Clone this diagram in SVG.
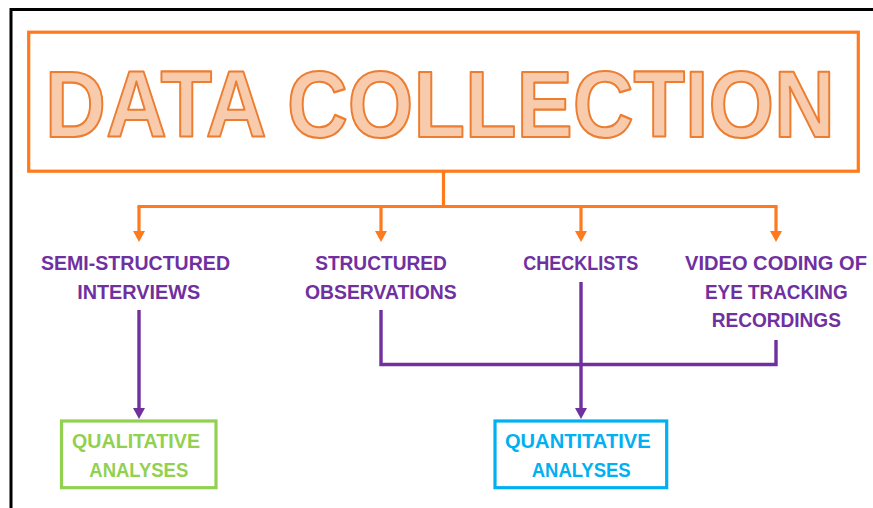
<svg xmlns="http://www.w3.org/2000/svg" width="873" height="508" viewBox="0 0 873 508">
<style>
.lbl{font-family:"Liberation Sans",Arial,sans-serif;font-weight:bold;font-size:19.5px;text-anchor:middle}
.pur{fill:#7030A0}
.grn{fill:#92D050}
.blu{fill:#00B0F0}
.oc{fill:none;stroke:#FF7A1C;stroke-width:3.2}
.pc{fill:none;stroke:#7030A0;stroke-width:3.4}
</style>
<defs>
<marker id="ao" markerUnits="userSpaceOnUse" markerWidth="12" markerHeight="12" viewBox="0 0 11 12" refX="0" refY="6" orient="auto"><path d="M0,0 L11,6 L0,12 z" fill="#FF7A1C"/></marker>
<marker id="ap" markerUnits="userSpaceOnUse" markerWidth="12" markerHeight="12" viewBox="0 0 11 12" refX="0" refY="6" orient="auto"><path d="M0,0 L11,6 L0,12 z" fill="#7030A0"/></marker>
</defs>
<rect width="873" height="508" fill="#fff"/>
<rect x="11" y="9.5" width="900" height="600" fill="none" stroke="#000" stroke-width="3"/>
<g id="title">
<rect x="28.7" y="32.2" width="829.6" height="139" fill="none" stroke="#FF7A1C" stroke-width="3.2"/>
<text transform="translate(440,137) scale(1,1.145)" x="0" y="0" font-family="'Liberation Sans',Arial,sans-serif" font-weight="bold" font-size="83" text-anchor="middle" textLength="790" lengthAdjust="spacingAndGlyphs" fill="#F8CBAD" stroke="#ED7D31" stroke-width="1.9" stroke-linejoin="round">DATA COLLECTION</text>
</g>
<g id="connectors">
<path class="oc" d="M443.5,171 V206.5 M137.5,206.5 H777.5"/>
<path class="oc" d="M139,206.5 V231" marker-end="url(#ao)"/>
<path class="oc" d="M381,206.5 V231" marker-end="url(#ao)"/>
<path class="oc" d="M581,206.5 V231" marker-end="url(#ao)"/>
<path class="oc" d="M776,206.5 V231" marker-end="url(#ao)"/>
<path class="pc" d="M139,310 V408" marker-end="url(#ap)"/>
<path class="pc" d="M381,310 V364.5 H776 V340"/>
<path class="pc" d="M581,282 V408" marker-end="url(#ap)"/>
</g>
<g id="semi">
<text class="lbl pur" x="135.5" y="270" textLength="189" lengthAdjust="spacingAndGlyphs">SEMI-STRUCTURED</text>
<text class="lbl pur" x="138.7" y="299" textLength="123" lengthAdjust="spacingAndGlyphs">INTERVIEWS</text>
</g>
<g id="structured">
<text class="lbl pur" x="381" y="270" textLength="131.7" lengthAdjust="spacingAndGlyphs">STRUCTURED</text>
<text class="lbl pur" x="380.8" y="299" textLength="151.7" lengthAdjust="spacingAndGlyphs">OBSERVATIONS</text>
</g>
<g id="checklists">
<text class="lbl pur" x="580.8" y="270" textLength="115" lengthAdjust="spacingAndGlyphs">CHECKLISTS</text>
</g>
<g id="video">
<text class="lbl pur" x="776" y="270" textLength="182" lengthAdjust="spacingAndGlyphs">VIDEO CODING OF</text>
<text class="lbl pur" x="776.3" y="298.5" textLength="142.7" lengthAdjust="spacingAndGlyphs">EYE TRACKING</text>
<text class="lbl pur" x="776.3" y="327" textLength="129.3" lengthAdjust="spacingAndGlyphs">RECORDINGS</text>
</g>
<g id="qualitative">
<rect x="61.5" y="421" width="154.5" height="66.7" fill="none" stroke="#92D050" stroke-width="3.2"/>
<text class="lbl grn" x="136" y="448" textLength="128" lengthAdjust="spacingAndGlyphs">QUALITATIVE</text>
<text class="lbl grn" x="138.8" y="477" textLength="99" lengthAdjust="spacingAndGlyphs">ANALYSES</text>
</g>
<g id="quantitative">
<rect x="495" y="421" width="171.7" height="66.7" fill="none" stroke="#00B0F0" stroke-width="3.2"/>
<text class="lbl blu" x="577.8" y="448" textLength="145.7" lengthAdjust="spacingAndGlyphs">QUANTITATIVE</text>
<text class="lbl blu" x="581.2" y="477" textLength="99" lengthAdjust="spacingAndGlyphs">ANALYSES</text>
</g>
</svg>
